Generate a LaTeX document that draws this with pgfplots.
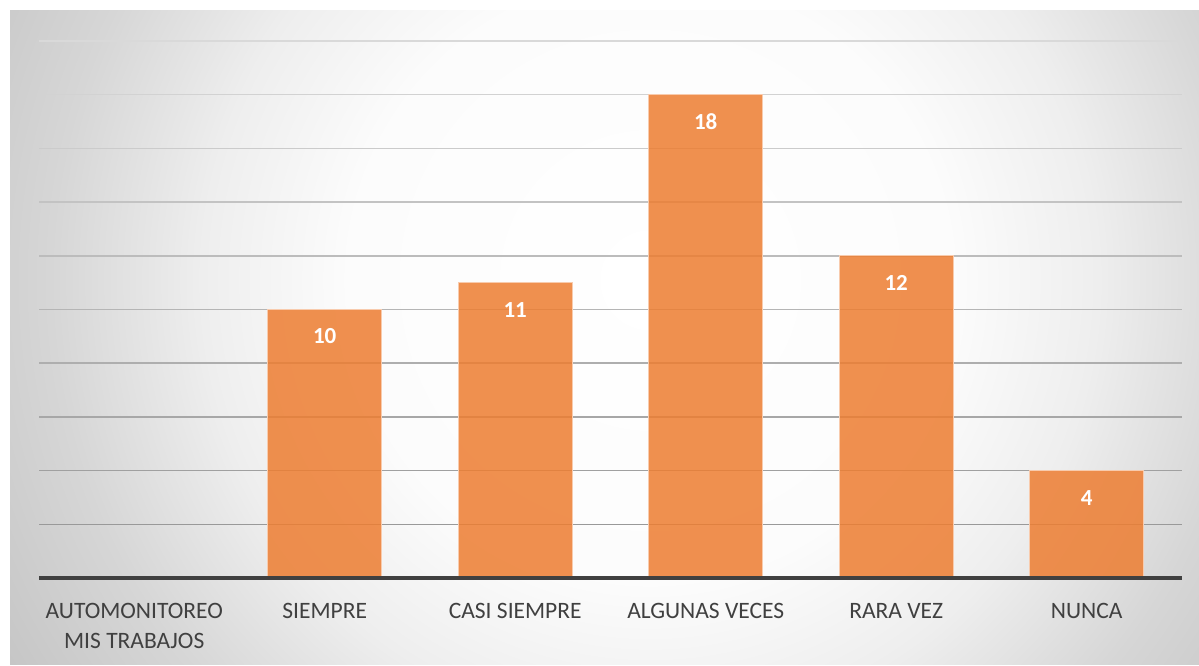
\documentclass[border=0pt]{standalone}
\usepackage{pgfplots}
\pgfplotsset{compat=1.18}
\usepackage{fontspec}
\setmainfont{Carlito}

\definecolor{barfill}{HTML}{ED7D31}
\definecolor{baredge}{HTML}{F8CBAD}
\definecolor{labgray}{HTML}{404040}
\definecolor{bgA}{HTML}{FCFCFC}
\definecolor{bgB}{HTML}{EEEEEE}
\definecolor{bgC}{HTML}{D6D6D6}
\definecolor{bgD}{HTML}{C0C0C0}
% the path's bounding box maps onto the central 50bp of the shading
\pgfdeclareradialshading{bgshade}{\pgfpoint{0bp}{0bp}}{%
  color(0bp)=(white); color(9.4bp)=(bgA); color(14bp)=(bgB);
  color(18.75bp)=(bgC); color(25bp)=(bgD); color(50bp)=(bgD)}

\begin{document}
\begin{tikzpicture}
\path[use as bounding box] (0,0) rectangle (1199pt,665pt);
% background panel
\begin{scope}
  \clip (10pt,1pt) rectangle (1199pt,654pt);
  \shade[shading=bgshade] (650pt,385pt) circle (800pt);
\end{scope}

\begin{axis}[
  at={(39pt,87pt)}, anchor=south west,
  scale only axis, width=1143pt, height=537pt,
  xmin=-0.5, xmax=5.5, ymin=0, ymax=20,
  axis x line*=bottom, axis y line=none,
  x axis line style={draw=none},
  xtick={0,...,5},
  xticklabels={{AUTOMONITOREO\\MIS TRABAJOS}, SIEMPRE, CASI SIEMPRE, ALGUNAS VECES, RARA VEZ, NUNCA},
  xticklabel style={align=center, font=\fontsize{23.5}{30}\selectfont,
    text=labgray, anchor=north, yshift=-22pt},
  major tick length=0pt,
  ytick=\empty,
  clip=false,
  /pgf/number format/assume math mode=true,
]
% grid lines, darker towards the bottom
\pgfplotsinvokeforeach{2,4,...,20}{
  \draw[line width=1.5pt, color=black!\fpeval{40-(#1-2)*25/18}]
    (axis cs:-0.5,#1) -- (axis cs:5.5,#1);
}

\addplot[ybar, bar width=114pt, fill=barfill, fill opacity=0.85,
  draw=baredge, line width=1pt,
  nodes near coords,
  every node near coord/.append style={anchor=center, yshift=-27pt,
    font=\bfseries\fontsize{23}{28}\selectfont, text=white, text opacity=1}]
coordinates {(1,10) (2,11) (3,18) (4,12) (5,4)};

\draw[line width=4pt, color=labgray] (axis cs:-0.5,0) -- (axis cs:5.5,0);
\end{axis}
\end{tikzpicture}
\end{document}
